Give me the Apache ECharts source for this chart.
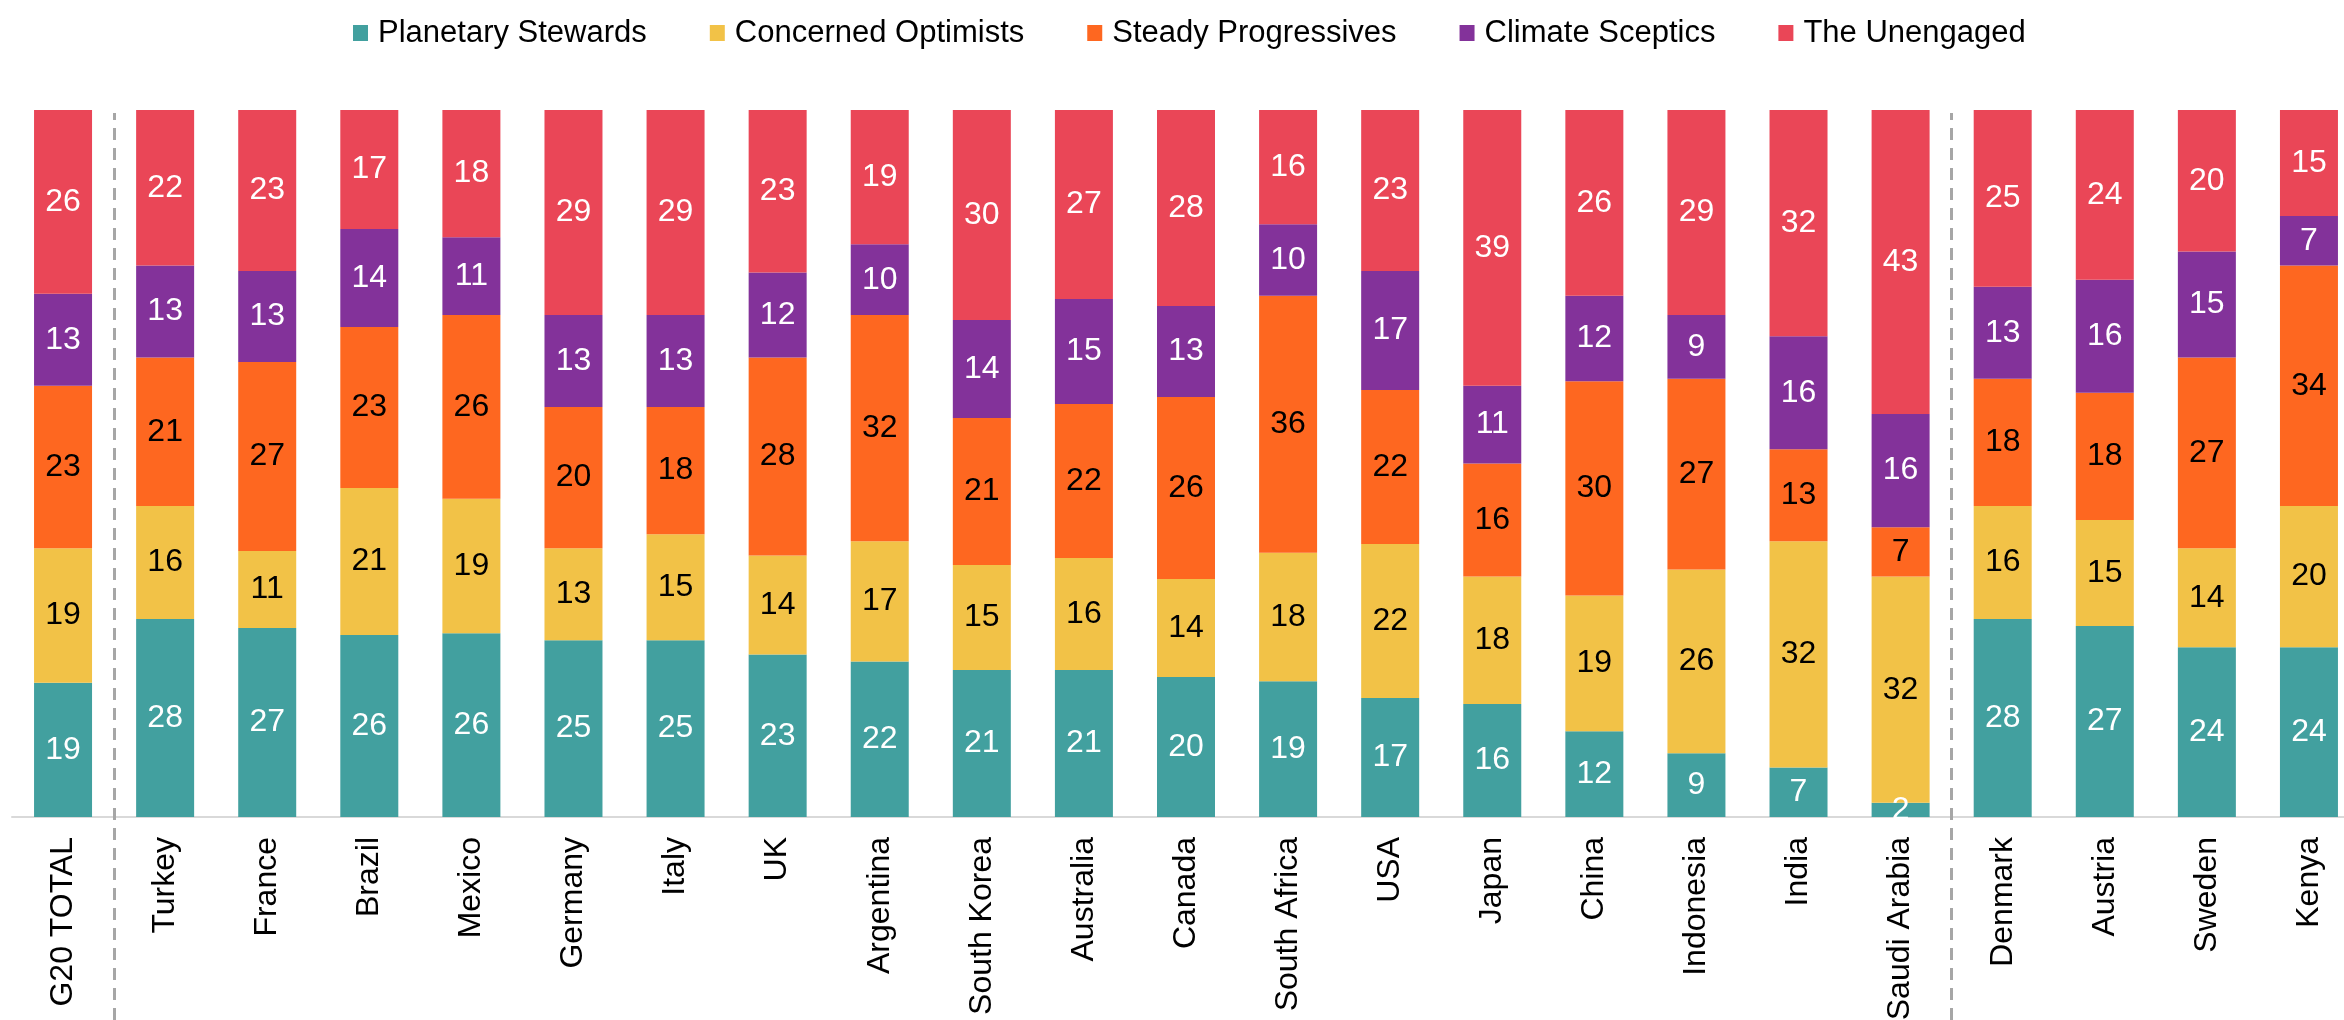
<!DOCTYPE html>
<html>
<head>
<meta charset="utf-8">
<script src="https://cdn.jsdelivr.net/npm/echarts@6/dist/echarts.min.js"></script>
<style>
html, body { margin: 0; padding: 0; background: #fff; }
#chart { width: 2344px; height: 1020px; }
</style>
</head>
<body>
<div id="chart"></div>
<script>
const categories = ['G20 TOTAL', 'Turkey', 'France', 'Brazil', 'Mexico', 'Germany', 'Italy', 'UK',
    'Argentina', 'South Korea', 'Australia', 'Canada', 'South Africa', 'USA', 'Japan', 'China',
    'Indonesia', 'India', 'Saudi Arabia', 'Denmark', 'Austria', 'Sweden', 'Kenya'];

const seriesNames = ['Planetary Stewards', 'Concerned Optimists', 'Steady Progressives', 'Climate Sceptics', 'The Unengaged'];

const planetaryStewards  = [19, 28, 27, 26, 26, 25, 25, 23, 22, 21, 21, 20, 19, 17, 16, 12, 9, 7, 2, 28, 27, 24, 24];
const concernedOptimists = [19, 16, 11, 21, 19, 13, 15, 14, 17, 15, 16, 14, 18, 22, 18, 19, 26, 32, 32, 16, 15, 14, 20];
const steadyProgressives = [23, 21, 27, 23, 26, 20, 18, 28, 32, 21, 22, 26, 36, 22, 16, 30, 27, 13, 7, 18, 18, 27, 34];
const climateSceptics    = [13, 13, 13, 14, 11, 13, 13, 12, 10, 14, 15, 13, 10, 17, 11, 12, 9, 16, 16, 13, 16, 15, 7];
const theUnengaged       = [26, 22, 23, 17, 18, 29, 29, 23, 19, 30, 27, 28, 16, 23, 39, 26, 29, 32, 43, 25, 24, 20, 15];

// dashed separators sit on these category boundaries
const dividerAt = [1, 19];

const colors = ['#42A09F', '#F2C247', '#FE6720', '#83329A', '#EA4657'];
const labelColors = ['#fff', '#000', '#000', '#fff', '#fff'];
const FONT = '"Liberation Sans", Arial, sans-serif';

const allSeries = [planetaryStewards, concernedOptimists, steadyProgressives, climateSceptics, theUnengaged];
// rounded values don't always add to 100, every bar is full height in the source
const totals = categories.map((c, i) => allSeries.reduce((s, arr) => s + arr[i], 0));

const chart = echarts.init(document.getElementById('chart'));

const barSeries = allSeries.map((arr, k) => ({
    name: seriesNames[k],
    type: 'bar',
    stack: 'seg',
    barWidth: 58,
    itemStyle: { color: colors[k] },
    label: {
        show: true,
        position: 'inside',
        color: labelColors[k],
        fontSize: 32,
        fontFamily: FONT,
        textBorderWidth: 0,
        formatter: p => arr[p.dataIndex]
    },
    data: arr.map((v, i) => v / totals[i] * 100),
    animation: false
}));

chart.setOption({
    animation: false,
    color: colors,
    legend: {
        left: 348,
        top: 11,
        icon: 'rect',
        itemWidth: 15,
        itemHeight: 16,
        itemGap: 63,
        data: seriesNames,
        textStyle: {
            fontSize: 31,
            fontFamily: FONT,
            color: '#000',
            lineHeight: 34,
            padding: [0, 0, 0, 5]
        }
    },
    grid: [
        { left: 12, width: 2348, top: 110, bottom: 203, outerBoundsMode: 'none' },
        { left: 12, width: 2348, top: 113, bottom: 0, outerBoundsMode: 'none' }
    ],
    xAxis: [{
        type: 'category',
        gridIndex: 0,
        data: categories,
        axisLine: { lineStyle: { color: '#d9d9d9', width: 2 } },
        axisTick: { show: false },
        axisLabel: {
            rotate: 90,
            margin: 20,
            fontSize: 32,
            fontFamily: FONT,
            color: '#000',
            interval: 0
        }
    }, {
        type: 'value',
        gridIndex: 1,
        min: 0,
        max: categories.length,
        show: false
    }],
    yAxis: [{
        type: 'value',
        gridIndex: 0,
        min: 0,
        max: 100,
        show: false,
        splitLine: { show: false }
    }, {
        type: 'value',
        gridIndex: 1,
        min: 0,
        max: 1,
        show: false,
        splitLine: { show: false }
    }],
    series: barSeries.concat([{
        type: 'line',
        xAxisIndex: 1,
        yAxisIndex: 1,
        data: [[0, 0]],
        showSymbol: false,
        lineStyle: { opacity: 0 },
        silent: true,
        markLine: {
            silent: true,
            symbol: 'none',
            label: { show: false },
            lineStyle: { color: '#a6a6a6', width: 3, type: [12, 8] },
            data: dividerAt.map(x => ({ xAxis: x }))
        }
    }])
});
</script>
</body>
</html>
